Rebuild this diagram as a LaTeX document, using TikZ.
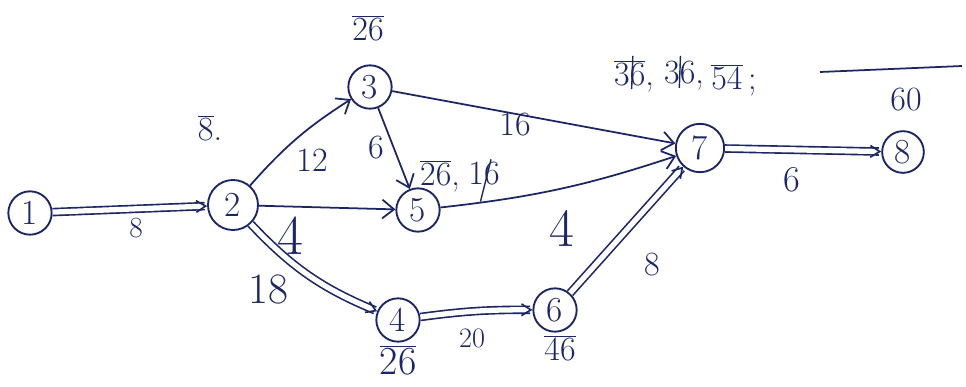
\documentclass[tikz,border=0pt]{standalone}
\usepackage{fontspec}
\usetikzlibrary{arrows.meta}
\definecolor{ink}{RGB}{28,38,100}
\newcommand\ov[1]{$\overline{\hbox{#1}}$}
\begin{document}
\begin{tikzpicture}[x=0.03cm,y=-0.03cm, line width=1.5pt, draw=ink,
  ev/.style={circle,draw=ink,line width=1.6pt,inner sep=0pt,minimum size=1.3cm,text=ink,font=\fontsize{30}{32}\selectfont},
  act/.style={draw=ink,line width=1.5pt,-{Straight Barb[length=10pt,width=16pt,line width=1.5pt]}},
  crit/.style={draw=ink,line width=1.4pt,double=white,double distance=4.5pt,-{Straight Barb[length=8pt,width=10pt]}},
  lbl/.style={text=ink,font=\fontsize{29}{31}\selectfont,inner sep=1pt},
  tl/.style={text=ink,font=\fontsize{29}{31}\selectfont,inner sep=1pt},
  strike/.style={draw=ink,line width=1.2pt}]
\useasboundingbox (0,0) rectangle (966,387);
\fill[white] (0,0) rectangle (966,387);
\node[ev] (n1) at (30,213) {1};
\node[ev,minimum size=1.5cm] (n2) at (233,205) {2};
\node[ev] (n3) at (370,87) {3};
\node[ev] (n5) at (418,210) {5};
\node[ev] (n4) at (398,320) {4};
\node[ev] (n6) at (555,310) {6};
\node[ev,minimum size=1.45cm] (n7) at (700,148) {7};
\node[ev,minimum size=1.25cm] (n8) at (903,152) {8};

\draw[crit] (n1) -- (n2);
\draw[act] (n2) to[bend left=8] (n3);
\draw[act] (n2) -- (n5);
\draw[crit] (n2) to[bend right=12] (n4);
\draw[act] (n3) -- (n5);
\draw[act] (n3) -- (n7);
\draw[act] (n5) to[bend right=6] (n7);
\draw[crit] (n4) to[bend left=4] (n6);
\draw[crit] (n6) -- (n7);
\draw[crit] (n7) -- (n8);

% edge labels
\node[lbl,font=\fontsize{25}{27}\selectfont] (l12) at (136,228) {8};
\node[lbl] (l23) at (312,160) {12};
\node[lbl,font=\fontsize{48}{50}\selectfont] (l25) at (290,236) {4};
\node[lbl] (l35) at (376,148) {6};
\node[lbl] (l37) at (515,125) {16};
\node[lbl,font=\fontsize{46}{48}\selectfont] (l57) at (562,228) {4};
\node[lbl,font=\fontsize{37}{39}\selectfont] (l24) at (268,290) {18};
\node[lbl,font=\fontsize{24}{26}\selectfont] (l46) at (472,338) {20};
\node[lbl] (l67) at (652,265) {8};
\node[lbl,font=\fontsize{31}{33}\selectfont] (l78) at (792,180) {6};

% event times
\node[tl] (t2) at (210,128) {\ov{8}.};
\node[tl] (t3) at (368,28) {\ov{26}};
\node[tl] (t5a) at (440,176) {\ov{26},};
\node[tl] (t5b) at (484,174) {16};
\draw[strike] ([xshift=-3pt,yshift=-12pt]t5b.south) -- ([xshift=6pt,yshift=1pt]t5b.north);
\node[tl] (t7a) at (634,76) {\ov{36},};
\node[tl] (t7b) at (684,76) {36,};
\node[tl] (t7c) at (734,80) {\ov{54}\,;};
\draw[strike] ([xshift=-2pt,yshift=4pt]t7a.south) -- ([xshift=-1pt,yshift=2pt]t7a.north);
\draw[strike] ([xshift=-4pt,yshift=4pt]t7b.south) -- ([xshift=-3pt,yshift=3pt]t7b.north);
\node[tl] (t8) at (906,100) {60};
\draw[strike,line width=1.5pt] (820,72) -- (962,66);
\node[tl,font=\fontsize{34}{36}\selectfont] (t4) at (398,360) {\ov{26}};
\node[tl] (t6) at (560,348) {\ov{46}};
\end{tikzpicture}
\end{document}
